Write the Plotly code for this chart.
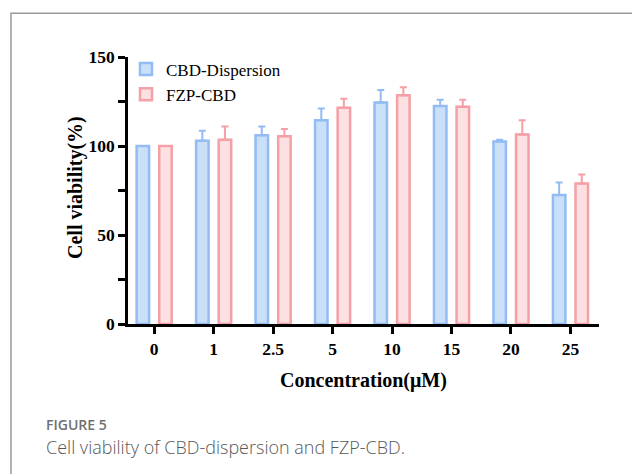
import plotly.graph_objects as go

categories = ["0", "1", "2.5", "5", "10", "15", "20", "25"]
cbd_dispersion = [100, 103, 106, 114.5, 124.5, 122.5, 102.5, 72.5]
cbd_dispersion_err = [0, 5.5, 5, 6.5, 7, 3.5, 1, 7]
fzp_cbd = [100, 103.5, 105.5, 121.5, 128.5, 122, 106.5, 79]
fzp_cbd_err = [0, 7.5, 4, 5, 4.5, 4, 8, 5]
y_tickvals = [0, 25, 50, 75, 100, 125, 150]
y_ticktext = ["0", "", "50", "", "100", "", "150"]

BLUE_LINE = "#93bcf4"
BLUE_FILL = "#cadff8"
PINK_LINE = "#f4a0a6"
PINK_FILL = "#fde0e2"

# page body has an 8px margin; compensate so the figure fills the window
OFF = 8
W_PX, H_PX = 640 - OFF, 474 - OFF
L, R, T, B = 128 - OFF, 41, 57 - OFF, 150
pw, ph = W_PX - L - R, H_PX - T - B


def px(x):
    return (x - OFF - L) / pw


def py(y):
    return (H_PX - B - (y - OFF)) / ph


fig = go.Figure()
fig.add_trace(go.Bar(
    name="CBD-Dispersion", x=categories, y=cbd_dispersion,
    width=0.21, offset=-0.295,
    marker=dict(color=BLUE_FILL, line=dict(color=BLUE_LINE, width=2.5)),
    error_y=dict(type="data", symmetric=False, array=cbd_dispersion_err,
                 arrayminus=[0] * len(categories), color=BLUE_LINE,
                 thickness=2, width=3.5),
))
fig.add_trace(go.Bar(
    name="FZP-CBD", x=categories, y=fzp_cbd,
    width=0.21, offset=0.085,
    marker=dict(color=PINK_FILL, line=dict(color=PINK_LINE, width=2.5)),
    error_y=dict(type="data", symmetric=False, array=fzp_cbd_err,
                 arrayminus=[0] * len(categories), color=PINK_LINE,
                 thickness=2, width=3.5),
))

tickfont = dict(family="Liberation Serif", size=17.5, color="black", weight="bold")
fig.update_layout(
    width=W_PX, height=H_PX,
    margin=dict(l=L, r=R, t=T, b=B, autoexpand=False),
    paper_bgcolor="white", plot_bgcolor="white",
    barmode="overlay",
    showlegend=True,
    legend=dict(x=px(126), y=py(51.5), xanchor="left", yanchor="top",
                font=dict(family="Liberation Serif", size=17, color="black"),
                bgcolor="rgba(0,0,0,0)", tracegroupgap=0, itemwidth=30),
    xaxis=dict(type="category", range=[-0.44, 7.48], showline=True,
               linecolor="black", linewidth=2.5, ticks="outside", ticklen=7,
               tickwidth=2.5, tickcolor="black", showgrid=False, zeroline=False,
               tickfont=tickfont),
    yaxis=dict(range=[0, 150], tickmode="array", tickvals=y_tickvals,
               ticktext=y_ticktext, showline=True, linecolor="black",
               linewidth=2.5, ticks="outside", ticklen=7, tickwidth=2.5,
               tickcolor="black", showgrid=False, zeroline=False,
               tickfont=tickfont),
)

fig.add_annotation(text="<b>Cell viability(%)</b>", xref="paper", yref="paper",
                   x=px(75), y=py(188), xanchor="center", yanchor="middle",
                   textangle=-90, showarrow=False,
                   font=dict(family="Liberation Serif", size=20, color="black"))
fig.add_annotation(text="<b>Concentration(μM)</b>", xref="paper", yref="paper",
                   x=px(363), y=py(380), xanchor="center", yanchor="middle",
                   showarrow=False,
                   font=dict(family="Liberation Serif", size=20, color="black"))
fig.add_annotation(text="FIGURE 5", xref="paper", yref="paper",
                   x=px(44), y=py(424), xanchor="left", yanchor="middle",
                   showarrow=False,
                   font=dict(family="Open Sans", size=14, color="#707070",
                             weight=600))
fig.add_annotation(text="Cell viability of CBD-dispersion and FZP-CBD.",
                   xref="paper", yref="paper", x=px(44), y=py(447),
                   xanchor="left", yanchor="middle", showarrow=False,
                   font=dict(family="Open Sans", size=18, color="#585858",
                             weight=300))

fig.add_shape(type="path", xref="paper", yref="paper",
              path=f"M{px(11)},{py(500)} L{px(11)},{py(13.3)} L{px(680)},{py(13.3)}",
              line=dict(color="#9a9a9a", width=1.5))

fig.write_html("out.html")
